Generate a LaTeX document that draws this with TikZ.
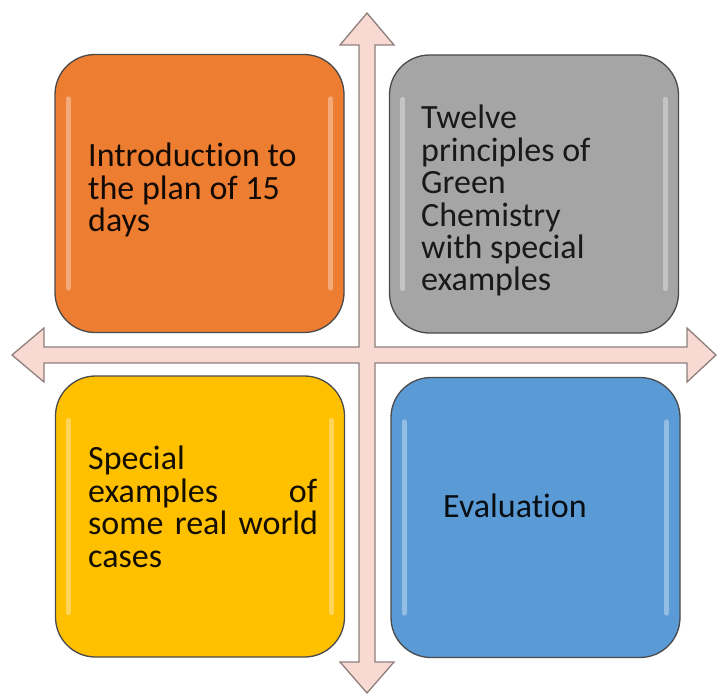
\documentclass[tikz,border=0pt]{standalone}
\usepackage{fontspec}
\setmainfont{Carlito}[Ligatures={NoCommon}]
\definecolor{crossfill}{HTML}{F8DAD2}
\definecolor{crossline}{HTML}{8E7F7C}
\definecolor{orangeC}{HTML}{ED7D31}
\definecolor{grayC}{HTML}{A5A5A5}
\definecolor{yellowC}{HTML}{FFC000}
\definecolor{blueC}{HTML}{5B9BD5}
\definecolor{boxline}{HTML}{4A4A4A}
\begin{document}
\begin{tikzpicture}[x=1pt,y=-1pt,
  box/.style={draw=boxline, line width=1.3pt, rounded corners=40pt, inner sep=0pt,
    minimum width=289pt, minimum height=278pt},
  gloss/.style={white, opacity=.35, line width=5pt, line cap=round},
  txt/.style={inner sep=0pt, anchor=north west, align=left, font=\fontsize{34}{32.4}\selectfont}]
\useasboundingbox (0,0) rectangle (717,694);
% cross arrow
\draw[fill=crossfill, draw=crossline, line width=1.3pt, line join=miter]
  (367,13) -- (394,45) -- (375,45) -- (375,347) -- (687,347) -- (687,328) -- (716,355)
  -- (687,382) -- (687,363) -- (375,363) -- (375,662) -- (394,662) -- (367,693)
  -- (340,662) -- (359,662) -- (359,363) -- (44,363) -- (44,382) -- (12,355)
  -- (44,328) -- (44,347) -- (359,347) -- (359,45) -- (340,45) -- cycle;
% boxes
\node[box, fill=orangeC] (intro) at (199.5,193.5) {};
\node[box, fill=grayC]   (twelve) at (534,194) {};
\node[box, fill=yellowC, minimum height=281pt] (special) at (200,516.5) {};
\node[box, fill=blueC, minimum height=280pt]   (eval) at (535.5,517.5) {};
% gloss highlights
\foreach \b in {intro,twelve,special,eval}{
  \draw[gloss] ([xshift=14pt,yshift=-45pt]\b.north west) -- ([xshift=14pt,yshift=45pt]\b.south west);
  \draw[gloss] ([xshift=-14pt,yshift=-45pt]\b.north east) -- ([xshift=-14pt,yshift=45pt]\b.south east);
}
% texts
\node[txt, text=black!85!orangeC!55!black] (introtxt) at (88,143) {Introduction to\\the plan of 15\\days};
\node[txt, text=black!90] (twelvetxt) at (421,105) {Twelve\\principles of\\Green\\Chemistry\\with special\\examples};
\node[txt, text=black!85!yellowC!50!black, text width=229pt] (specialtxt) at (88,446)
  {Special\\examples\hfill of\\\makebox[229pt][s]{some real world}\\cases};
\node[txt, text=black!80!blueC!45!black] (evaltxt) at (443,494) {Evaluation};
\end{tikzpicture}
\end{document}
